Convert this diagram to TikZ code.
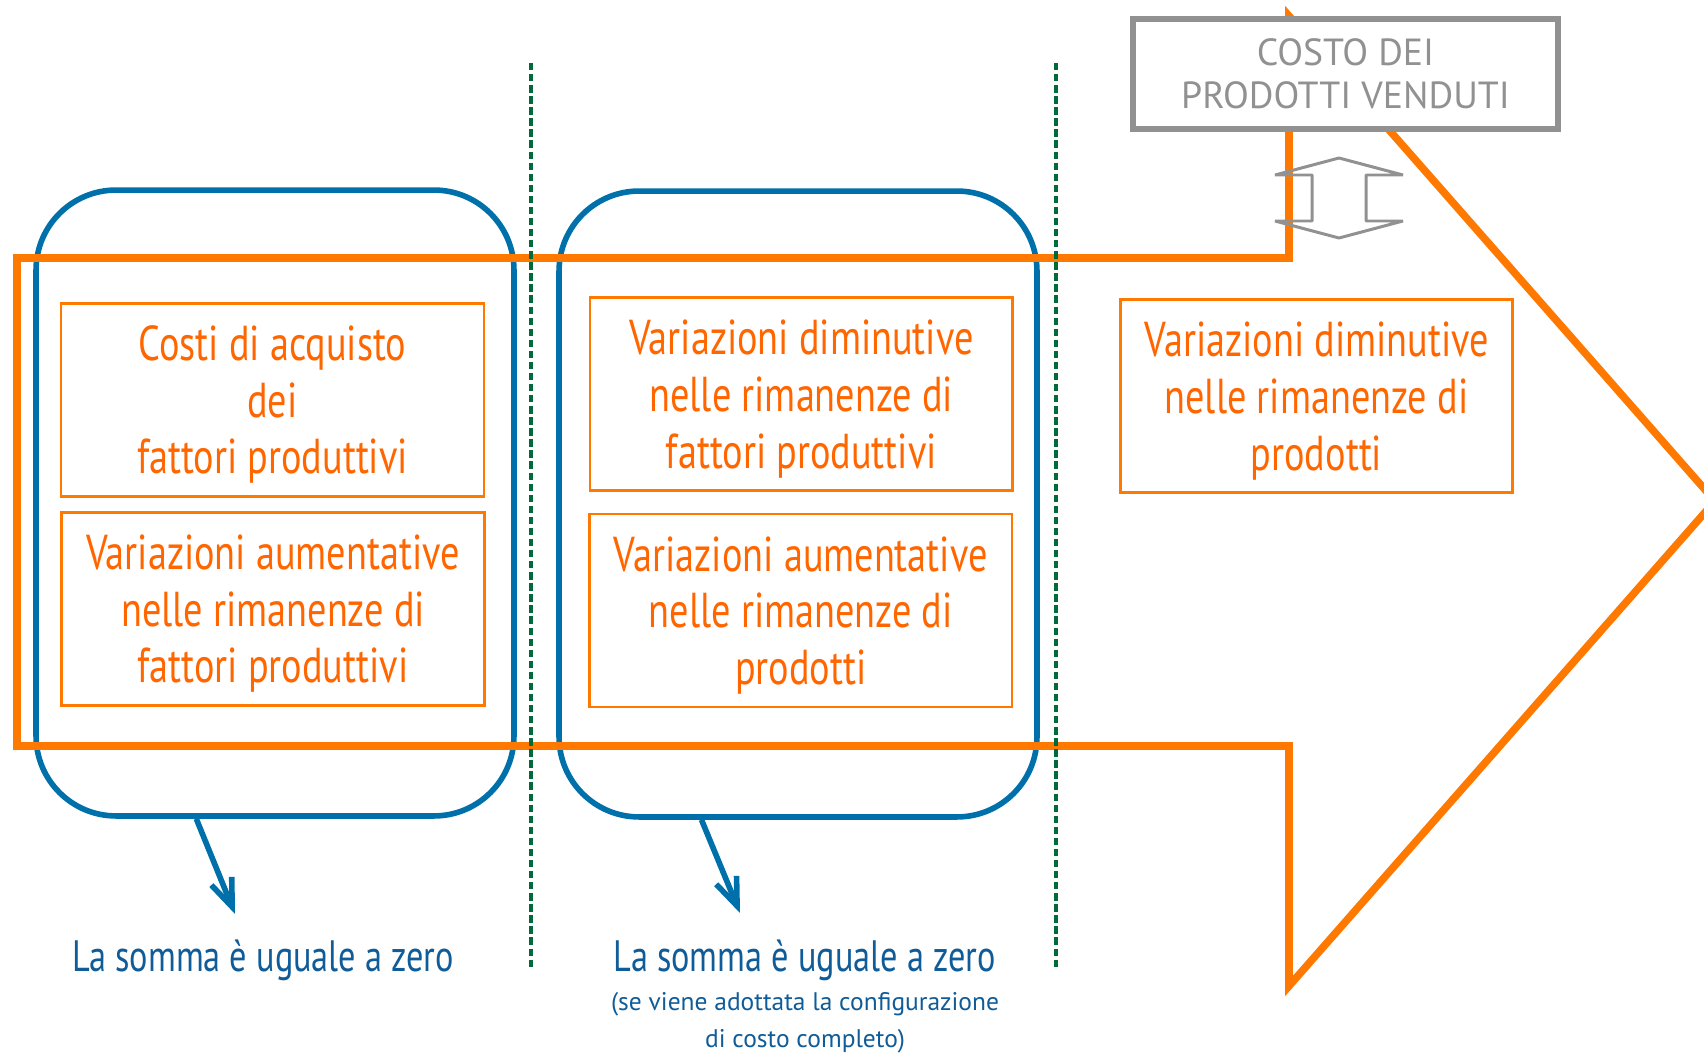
\documentclass[tikz,border=0pt]{standalone}
\usepackage{fontspec}
\setmainfont[FakeStretch=0.78]{PT Sans}
\newfontfamily\largo{PT Sans}
\usetikzlibrary{arrows.meta}
\definecolor{arancio}{RGB}{255,120,0}
\definecolor{testoarancio}{RGB}{255,102,0}
\definecolor{blu}{RGB}{0,112,170}
\definecolor{testoblu}{RGB}{16,92,152}
\definecolor{verde}{RGB}{0,106,58}
\definecolor{grigio}{RGB}{145,145,145}
\begin{document}
\begin{tikzpicture}[x=0.02cm,y=-0.02cm]
\def\bw{8.46cm}
\def\bh{3.86cm}
\tikzset{voce/.style={draw=arancio,line width=1.5pt,text=testoarancio,minimum width=\bw,minimum height=\bh,
inner sep=0pt,text depth=0pt,align=center,font=\fontsize{27.9}{32.3}\selectfont},
gruppo/.style={draw=blu,line width=3.2pt,rounded corners=1.6cm,minimum width=9.56cm,minimum height=12.52cm},
costo/.style={draw=grigio,fill=white,line width=3pt,text=grigio,minimum width=8.5cm,minimum height=2.2cm,
align=center,font=\largo\fontsize{21.5}{24.6}\selectfont},
somma/.style={text=testoblu,font=\fontsize{25}{28}\selectfont,anchor=base},
nota/.style={text=testoblu,font=\largo\fontsize{14.5}{21}\selectfont,align=center,anchor=north},
sep/.style={verde,line width=2.6pt,dash pattern=on 4.2pt off 2.1pt},
freccia/.style={blu,line width=3.2pt,-{Straight Barb[length=5.6mm,width=4.4mm]}}}
\useasboundingbox (0,0) rectangle (1704,1055);
\node[gruppo] at (275,503) (GA) {};
\node[gruppo] at (798,504) (GB) {};
\draw[arancio,line width=4.3pt] (17,258) -- (1289,258) -- (1289,16) -- (1715,501) -- (1289,986) -- (1289,746) -- (17,746) -- cycle;
\draw[sep] (531,63) -- (531,969);
\draw[sep] (1056,63) -- (1056,969);
\node[costo] at (1345.5,74) (CPV) {COSTO DEI\\PRODOTTI VENDUTI};
\draw[grigio,line width=1.7pt,line join=bevel] (1339,158) -- (1403,175) -- (1366,175) -- (1366,221) -- (1403,221) -- (1339,238)
 -- (1275,221) -- (1312,221) -- (1312,175) -- (1275,175) -- cycle;
\node[voce] at (272.5,399.7) (CA) {Costi di acquisto\\dei\\fattori produttivi};
\node[voce] at (273,608.8) (VAF) {Variazioni aumentative\\nelle rimanenze di\\fattori produttivi};
\node[voce] at (801.3,394.2) (VDF) {Variazioni diminutive\\nelle rimanenze di\\fattori produttivi};
\node[voce] at (800.7,610.4) (VAP) {Variazioni aumentative\\nelle rimanenze di\\prodotti};
\node[voce,minimum width=7.83cm] at (1316.5,396.2) (VDP) {Variazioni diminutive\\nelle rimanenze di\\prodotti};
\node[somma] at (263,971.7) (SA) {La somma è uguale a zero};
\node[somma] at (804.7,971.7) (SB) {La somma è uguale a zero};
\node[nota] at (805,986) (NB) {(se viene adottata la configurazione\\di costo completo)};
\coordinate (TA) at (235,914);
\coordinate (TB) at (740,913);
\draw[freccia] (GA.256) -- (TA);
\draw[freccia] (GB.253) -- (TB);
\end{tikzpicture}
\end{document}
